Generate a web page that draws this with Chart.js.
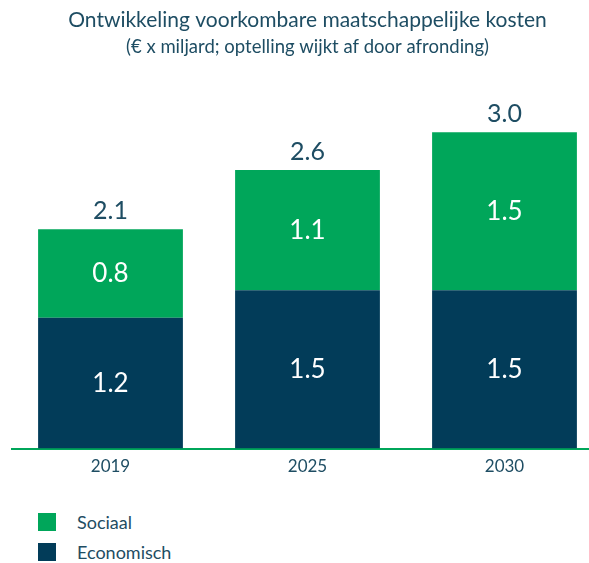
<!DOCTYPE html>
<html>
<head>
<meta charset="utf-8">
<script src="https://cdn.jsdelivr.net/npm/chart.js@4"></script>
<style>
  body { margin: 0; background: #fff; overflow: hidden; font-family: Lato, sans-serif; }
  #wrap { position: relative; width: 618px; height: 563px; }
  #legend { position: absolute; left: 38px; top: 513px; }
  .item { display: flex; align-items: center; height: 18px; margin-bottom: 12px; color: #1e4d63; font-size: 18px; }
  .box { width: 18px; height: 18px; margin-right: 21px; }
</style>
</head>
<body>
<div id="wrap">
  <canvas id="myChart" width="618" height="482"></canvas>
  <div id="legend"></div>
</div>
<script>
const years = ["2019", "2025", "2030"];
const economisch = [1.24, 1.5, 1.5];
const sociaal = [0.84, 1.14, 1.5];

const darkBlue = "#023c59";
const green = "#00a65a";
const textColor = "#1e4d63";

// labels in the middle of each block + total above the stack
const valueLabels = {
  id: "valueLabels",
  afterDatasetsDraw(chart) {
    const ctx = chart.ctx;
    ctx.save();
    ctx.textAlign = "center";
    ctx.textBaseline = "middle";
    chart.data.datasets.forEach((ds, i) => {
      chart.getDatasetMeta(i).data.forEach((bar, j) => {
        ctx.fillStyle = "#fff";
        ctx.font = "26px Lato";
        ctx.fillText(ds.data[j].toFixed(1), bar.x, (bar.y + bar.base) / 2);
      });
    });
    const top = chart.getDatasetMeta(chart.data.datasets.length - 1).data;
    top.forEach((bar, j) => {
      const total = economisch[j] + sociaal[j];
      ctx.fillStyle = textColor;
      ctx.font = "25px Lato";
      ctx.fillText(total.toFixed(1), bar.x, bar.y - 18);
    });
    ctx.restore();
  }
};

const chart = new Chart("myChart", {
  type: "bar",
  data: {
    labels: years,
    datasets: [
      { label: "Economisch", data: economisch, backgroundColor: darkBlue },
      { label: "Sociaal", data: sociaal, backgroundColor: green }
    ]
  },
  options: {
    responsive: false,
    animation: false,
    categoryPercentage: 1,
    barPercentage: 0.735,
    layout: { padding: { left: 12, right: 15, bottom: 5 } },
    scales: {
      x: {
        stacked: true,
        grid: { display: false },
        border: { color: green, width: 2 },
        ticks: { color: textColor, font: { family: "Lato", size: 17 }, padding: 0 }
      },
      y: {
        stacked: true,
        display: false,
        min: 0,
        max: 3.5
      }
    },
    plugins: {
      legend: { display: false },
      tooltip: { enabled: false },
      title: {
        display: true,
        text: "Ontwikkeling voorkombare maatschappelijke kosten",
        color: textColor,
        font: { family: "Lato", size: 21, weight: "normal" },
        padding: { top: 8, bottom: 0 }
      },
      subtitle: {
        display: true,
        text: "(€ x miljard; optelling wijkt af door afronding)",
        color: textColor,
        font: { family: "Lato", size: 18.5, weight: "normal" },
        padding: { top: 3, bottom: 21 }
      }
    }
  },
  plugins: [valueLabels]
});

// legend drawn as html, top series first
const legend = document.getElementById("legend");
chart.data.datasets.slice().reverse().forEach(ds => {
  const row = document.createElement("div");
  row.className = "item";
  const box = document.createElement("span");
  box.className = "box";
  box.style.background = ds.backgroundColor;
  const txt = document.createElement("span");
  txt.textContent = ds.label;
  row.appendChild(box);
  row.appendChild(txt);
  legend.appendChild(row);
});
</script>
</body>
</html>
